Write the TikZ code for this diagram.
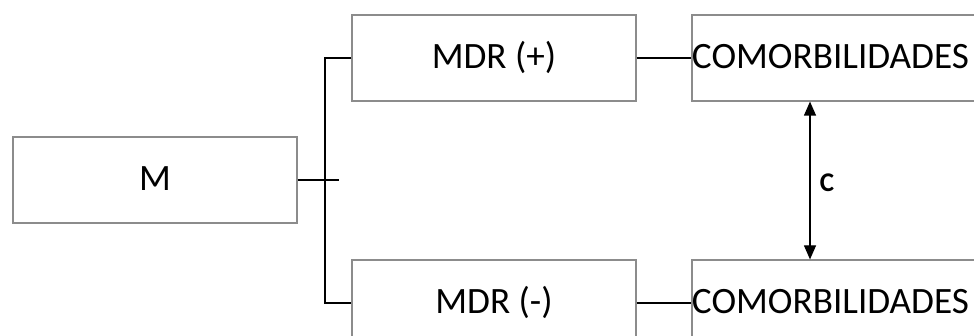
\documentclass[tikz,border=0pt]{standalone}
\usepackage{fontspec}
\setmainfont{Carlito}
\usetikzlibrary{arrows.meta}
\tikzset{
  box/.style={draw=black!45, line width=0.6pt, fill=white, minimum width=142pt, minimum height=43pt,
    inner sep=0pt, font=\fontsize{18.6}{20}\selectfont, text height=13pt, text depth=2pt},
  conn/.style={draw=black, line width=1.1pt},
  dbl/.style={draw=black, line width=0.6pt, {Triangle[width=6pt,length=7pt]}-{Triangle[width=6pt,length=7pt]}},
  clabel/.style={font=\fontsize{13.5}{15}\selectfont\bfseries, inner sep=0pt}
}
\begin{document}
\begin{tikzpicture}[x=0.5pt,y=-0.5pt]
\useasboundingbox (0,0) rectangle (974,336);
\clip (0,0) rectangle (974,336);
\node[box] (m) at (155,180) {M};
\node[box] (mp) at (494,58) {MDR (+)};
\node[box] (mn) at (494,303) {MDR (-)};
\node[box] (cp) at (834,58) {\hspace*{-3.5pt}COMORBILIDADES};
\node[box] (cn) at (834,303) {\hspace*{-3.5pt}COMORBILIDADES};
\coordinate (split) at (325,180);
\coordinate (tail) at (339,180);
\draw[conn] (m.east) -- (tail);
\draw[conn] (mp.west) -- (split |- mp.west) -- (split |- mn.west) -- (mn.west);
\draw[conn] (mp.east) -- (cp.west);
\draw[conn] (mn.east) -- (cn.west);
\coordinate (atop) at (810,101);
\coordinate (abot) at (810,260);
\draw[dbl] (cp.south -| atop) -- (cn.north -| abot);
\node[clabel] (c) at (827,183) {C};
\end{tikzpicture}
\end{document}
